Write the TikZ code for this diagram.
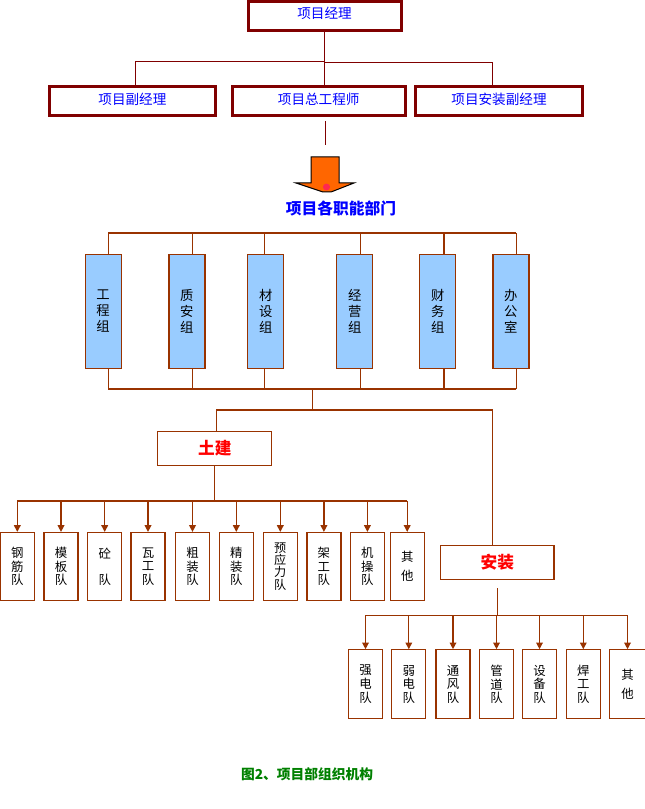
\documentclass[tikz,border=0pt]{standalone}
\usepackage{fontspec}
\setmainfont{Noto Sans CJK SC}
\usetikzlibrary{calc,arrows.meta}
\definecolor{dred}{HTML}{800000}
\definecolor{brn}{HTML}{993300}
\definecolor{lblue}{HTML}{99CCFF}
\definecolor{orng}{HTML}{FF6600}
\definecolor{cgreen}{HTML}{008000}
\definecolor{blob}{HTML}{FF2850}
\begin{document}
\begin{tikzpicture}[x=0.75pt,y=-0.75pt,
  topbox/.style={draw=dred, line width=2.25pt, fill=white, text=blue,
    font=\fontsize{10.2}{12}\selectfont, minimum height=29*0.75pt,
    text height=5pt, text depth=0.5pt, inner sep=0pt},
  topline/.style={draw=dred, line width=0.75pt},
  brline/.style={draw=brn, line width=0.8pt},
  deptbox/.style={draw=brn, line width=0.9pt, fill=lblue, minimum width=36*0.75pt,
    minimum height=114*0.75pt, inner sep=0pt, align=center,
    font=\fontsize{10}{12}\selectfont},
  mainbox/.style={draw=brn, line width=0.9pt, fill=white, text=red,
    minimum width=114*0.75pt, minimum height=34*0.75pt, inner sep=0pt,
    font=\bfseries\fontsize{12.5}{14}\selectfont},
  teambox/.style={draw=brn, line width=0.9pt, fill=white, minimum width=34*0.75pt,
    minimum height=68*0.75pt, inner sep=0pt, align=center,
    font=\fontsize{9.3}{10.3}\selectfont},
  teamarrow/.style={draw=brn, line width=0.9pt, -{Triangle[width=5pt,length=5pt]}}
]
\useasboundingbox (0,0) rectangle (644,809);

% ---- top level
\node[topbox, minimum width=153*0.75pt] (pm) at (324.5,16) {项目经理};
\node[topbox, minimum width=165.8*0.75pt] (vpm) at (132.4,101.5) {项目副经理};
\node[topbox, minimum width=172.8*0.75pt] (chief) at (318.7,101.5) {项目总工程师};
\node[topbox, minimum width=167*0.75pt] (ivpm) at (499,101.5) {项目安装副经理};

\coordinate (j1) at ($(pm.south)+(0,29.5)$);
\coordinate (j2) at ($(pm.south)+(0,31)$);
\draw[topline] (pm.south) -- (pm.south |- chief.north);
\draw[topline] ($(vpm.north)+(3,0)$) |- (j1);
\draw[topline] ($(ivpm.north)+(-7,0)$) |- (j2);
\coordinate (c1) at (325,121);
\coordinate (c2) at (325,145);
\draw[topline] (c1) -- (c2);

% ---- big arrow
\draw[fill=orng, draw=black, line width=0.75pt]
  (311,157) -- (339,157) -- (339,183) -- (354,183) -- (331,192) -- (323,192)
  -- (296,183) -- (311,183) -- cycle;
\fill[blob] (326.5,187) ellipse [x radius=3.6, y radius=3.4];

\node[text=blue, font=\bfseries\fontsize{11.8}{13}\selectfont] (dept) at (341,208) {项目各职能部门};

% ---- departments
\node[deptbox] (g1) at (103.1,311.5) {工\\程\\组};
\node[deptbox] (g2) at (186.9,311.5) {质\\安\\组};
\node[deptbox] (g3) at (265.7,311.5) {材\\设\\组};
\node[deptbox] (g4) at (354.8,311.5) {经\\营\\组};
\node[deptbox] (g5) at (437.8,311.5) {财\\务\\组};
\node[deptbox] (g6) at (510.9,311.5) {办\\公\\室};

\coordinate (bt) at (0,233);
\coordinate (bb) at (0,389);
\foreach \i/\o in {1/5.3,2/5.3,3/-1.6,4/5.8,5/6.2,6/5.3}{
  \coordinate (t\i) at ($(g\i.north)+(\o,0)$);
  \coordinate (b\i) at ($(g\i.south)+(\o,0)$);
  \draw[brline] (t\i) -- (t\i |- bt);
  \draw[brline] (b\i) -- (b\i |- bb);
}
\draw[brline] (t1 |- bt) -- (t6 |- bt);
\draw[brline] (b1 |- bb) -- (b6 |- bb);

% ---- split to 土建 / 安装
\node[mainbox] (tj) at (214.8,448.5) {土建};
\node[mainbox, minimum width=113.2*0.75pt] (az) at (497.3,562.5) {安装};
\coordinate (m1) at (312.5,389);
\coordinate (m2) at (312.5,410);
\draw[brline] (m1) -- (m2);
\coordinate (tjn) at ($(tj.north)+(1.6,0)$);
\coordinate (azn) at ($(az.north)+(-4.9,0)$);
\draw[brline] (tjn) |- (m2) -| (azn);

% ---- civil teams
\node[teambox] (k1) at (17.3,566.5) {钢\\筋\\队};
\node[teambox] (k2) at (61,566.5) {模\\板\\队};
\node[teambox] (k3) at (104.7,566.5) {砼\\[9pt]队};
\node[teambox] (k4) at (148,566.5) {瓦\\工\\队};
\node[teambox] (k5) at (192.5,566.5) {粗\\装\\队};
\node[teambox] (k6) at (236.3,566.5) {精\\装\\队};
\node[teambox, font=\fontsize{9.1}{9.2}\selectfont] (k7) at (280.3,566.5) {预\\应\\力\\队};
\node[teambox] (k8) at (323.9,566.5) {架\\工\\队};
\node[teambox] (k9) at (367.4,566.5) {机\\操\\队};
\node[teambox] (k10) at (407.2,566.5) {其\\[4pt]他};

\coordinate (kb) at (0,501);
\draw[brline] (tj.south) -- (tj.south |- kb);
\draw[brline] (k1.north |- kb) -- (k10.north |- kb);
\foreach \i in {1,...,10}{
  \draw[teamarrow] (k\i.north |- kb) -- (k\i.north);
}

% ---- installation teams
\node[teambox, minimum height=69*0.75pt] (n1) at (365.5,684.3) {强\\电\\队};
\node[teambox, minimum height=69*0.75pt] (n2) at (408.8,684.3) {弱\\电\\队};
\node[teambox, minimum height=69*0.75pt] (n3) at (453,684.3) {通\\风\\队};
\node[teambox, minimum height=69*0.75pt] (n4) at (496.5,684.3) {管\\道\\队};
\node[teambox, minimum height=69*0.75pt] (n5) at (539.5,684.3) {设\\备\\队};
\node[teambox, minimum height=69*0.75pt] (n6) at (583.3,684.3) {焊\\工\\队};
\node[teambox, minimum height=69*0.75pt, minimum width=36*0.75pt] (n7) at (627.5,684.3) {其\\[3.6pt]他};

\coordinate (a1) at (497.3,588.3);
\coordinate (nb) at (0,615.3);
\draw[brline] (a1) -- (a1 |- nb);
\draw[brline] (n1.north |- nb) -- (n7.north |- nb);
\foreach \i in {1,...,7}{
  \draw[teamarrow] (n\i.north |- nb) -- (n\i.north);
}

% ---- caption
\node[text=cgreen, font=\bfseries\fontsize{10.3}{12}\selectfont] (cap) at (307,774) {图2、项目部组织机构};
\end{tikzpicture}
\end{document}
